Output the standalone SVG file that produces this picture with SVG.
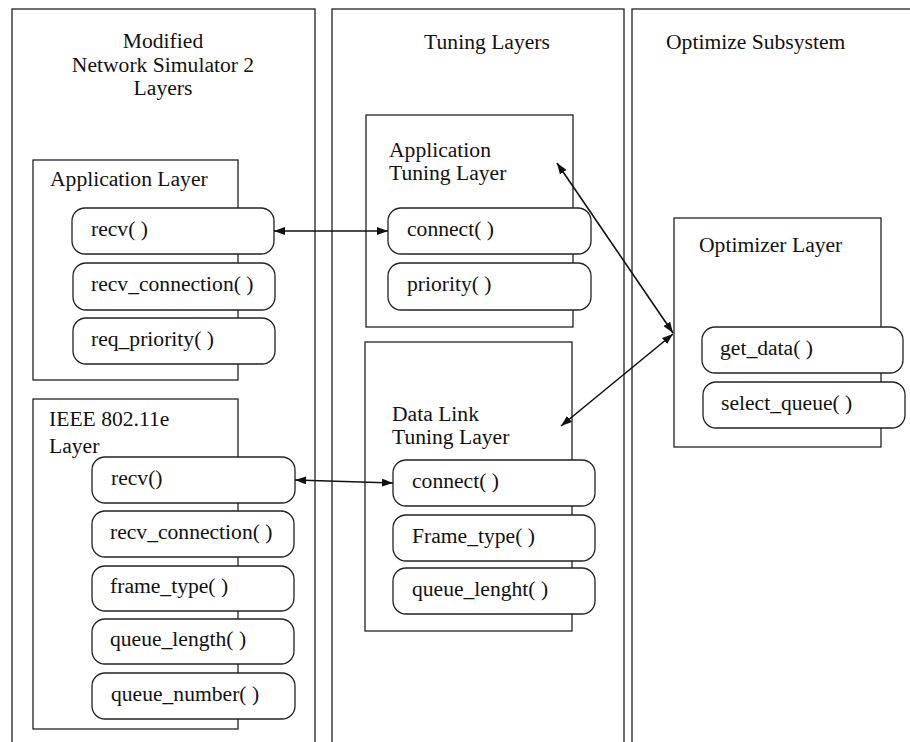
<svg xmlns="http://www.w3.org/2000/svg" width="910" height="742" viewBox="0 0 910 742">
<style>
text{font-family:"Liberation Serif","Times New Roman",serif;font-size:21.6px;fill:#111}
.col{fill:#fff;stroke:#222;stroke-width:1.3}
.box{fill:#fff;stroke:#222;stroke-width:1.3}
.fn{fill:#fff;stroke:#222;stroke-width:1.3}
.c{fill:none;stroke:#111;stroke-width:1.6}
.mid{text-anchor:middle}
</style>
<defs>
<marker id="ah" viewBox="0 0 11 8" refX="11" refY="4" markerWidth="11" markerHeight="8" markerUnits="userSpaceOnUse" orient="auto-start-reverse">
<path d="M0,0 L11,4 L0,8 z" fill="#111"/>
</marker>
</defs>
<rect width="910" height="742" fill="#fff"/>

<g id="col-ns2">
<rect class="col" x="12" y="9" width="303" height="760"/>
<text class="mid" x="163" y="48">Modified</text>
<text class="mid" x="163" y="72">Network Simulator 2</text>
<text class="mid" x="163" y="95">Layers</text>
</g>
<g id="col-tuning">
<rect class="col" x="332" y="9" width="292" height="760"/>
<text class="mid" x="487" y="49">Tuning Layers</text>
</g>
<g id="col-opt">
<rect class="col" x="632" y="9" width="300" height="760"/>
<text x="666" y="49">Optimize Subsystem</text>
</g>

<g id="app-layer">
<rect class="box" x="33" y="160" width="205" height="220"/>
<text x="50" y="186">Application Layer</text>
<g id="app-recv"><rect class="fn" x="72" y="208" width="202" height="46" rx="13"/><text x="91" y="236">recv( )</text></g>
<g id="app-recv-connection"><rect class="fn" x="73" y="263" width="202" height="47" rx="13"/><text x="91" y="291">recv_connection( )</text></g>
<g id="app-req-priority"><rect class="fn" x="73" y="318" width="202" height="46" rx="13"/><text x="91" y="346">req_priority( )</text></g>
</g>

<g id="ieee-layer">
<rect class="box" x="33" y="399" width="205" height="330"/>
<text x="49" y="426">IEEE 802.11e</text>
<text x="49" y="453">Layer</text>
<g id="ieee-recv"><rect class="fn" x="92" y="457" width="203" height="46" rx="13"/><text x="111" y="485">recv()</text></g>
<g id="ieee-recv-connection"><rect class="fn" x="92" y="511" width="202" height="46" rx="13"/><text x="110" y="539">recv_connection( )</text></g>
<g id="ieee-frame-type"><rect class="fn" x="92" y="566" width="202" height="45" rx="13"/><text x="110" y="593">frame_type( )</text></g>
<g id="ieee-queue-length"><rect class="fn" x="92" y="619" width="202" height="45" rx="13"/><text x="110" y="646">queue_length( )</text></g>
<g id="ieee-queue-number"><rect class="fn" x="92" y="673" width="203" height="46" rx="13"/><text x="111" y="701">queue_number( )</text></g>
</g>

<g id="app-tuning-layer">
<rect class="box" x="366" y="115" width="207" height="212"/>
<text x="389" y="157">Application</text>
<text x="389" y="180">Tuning Layer</text>
<g id="atl-connect"><rect class="fn" x="388" y="208" width="203" height="46" rx="13"/><text x="407" y="236">connect( )</text></g>
<g id="atl-priority"><rect class="fn" x="388" y="263" width="203" height="47" rx="13"/><text x="407" y="291">priority( )</text></g>
</g>

<g id="dl-tuning-layer">
<rect class="box" x="365" y="342" width="207" height="289"/>
<text x="392" y="421">Data Link</text>
<text x="392" y="444">Tuning Layer</text>
<g id="dl-connect"><rect class="fn" x="393" y="460" width="202" height="46" rx="13"/><text x="412" y="488">connect( )</text></g>
<g id="dl-frame-type"><rect class="fn" x="393" y="515" width="202" height="46" rx="13"/><text x="412" y="543">Frame_type( )</text></g>
<g id="dl-queue-lenght"><rect class="fn" x="393" y="568" width="202" height="46" rx="13"/><text x="412" y="596">queue_lenght( )</text></g>
</g>

<g id="optimizer-layer">
<rect class="box" x="674" y="218" width="207" height="229"/>
<text x="699" y="252">Optimizer Layer</text>
<g id="opt-get-data"><rect class="fn" x="702" y="327" width="201" height="46" rx="13"/><text x="720" y="355">get_data( )</text></g>
<g id="opt-select-queue"><rect class="fn" x="703" y="382" width="202" height="46" rx="13"/><text x="721" y="410">select_queue( )</text></g>
</g>

<g id="connectors">
<line class="c" x1="274" y1="231" x2="388" y2="231" marker-start="url(#ah)" marker-end="url(#ah)"/>
<line class="c" x1="295" y1="480" x2="393" y2="483" marker-start="url(#ah)" marker-end="url(#ah)"/>
<line class="c" x1="557" y1="163" x2="673" y2="333" marker-start="url(#ah)" marker-end="url(#ah)"/>
<line class="c" x1="561" y1="426" x2="673" y2="334" marker-start="url(#ah)" marker-end="url(#ah)"/>
</g>
</svg>
